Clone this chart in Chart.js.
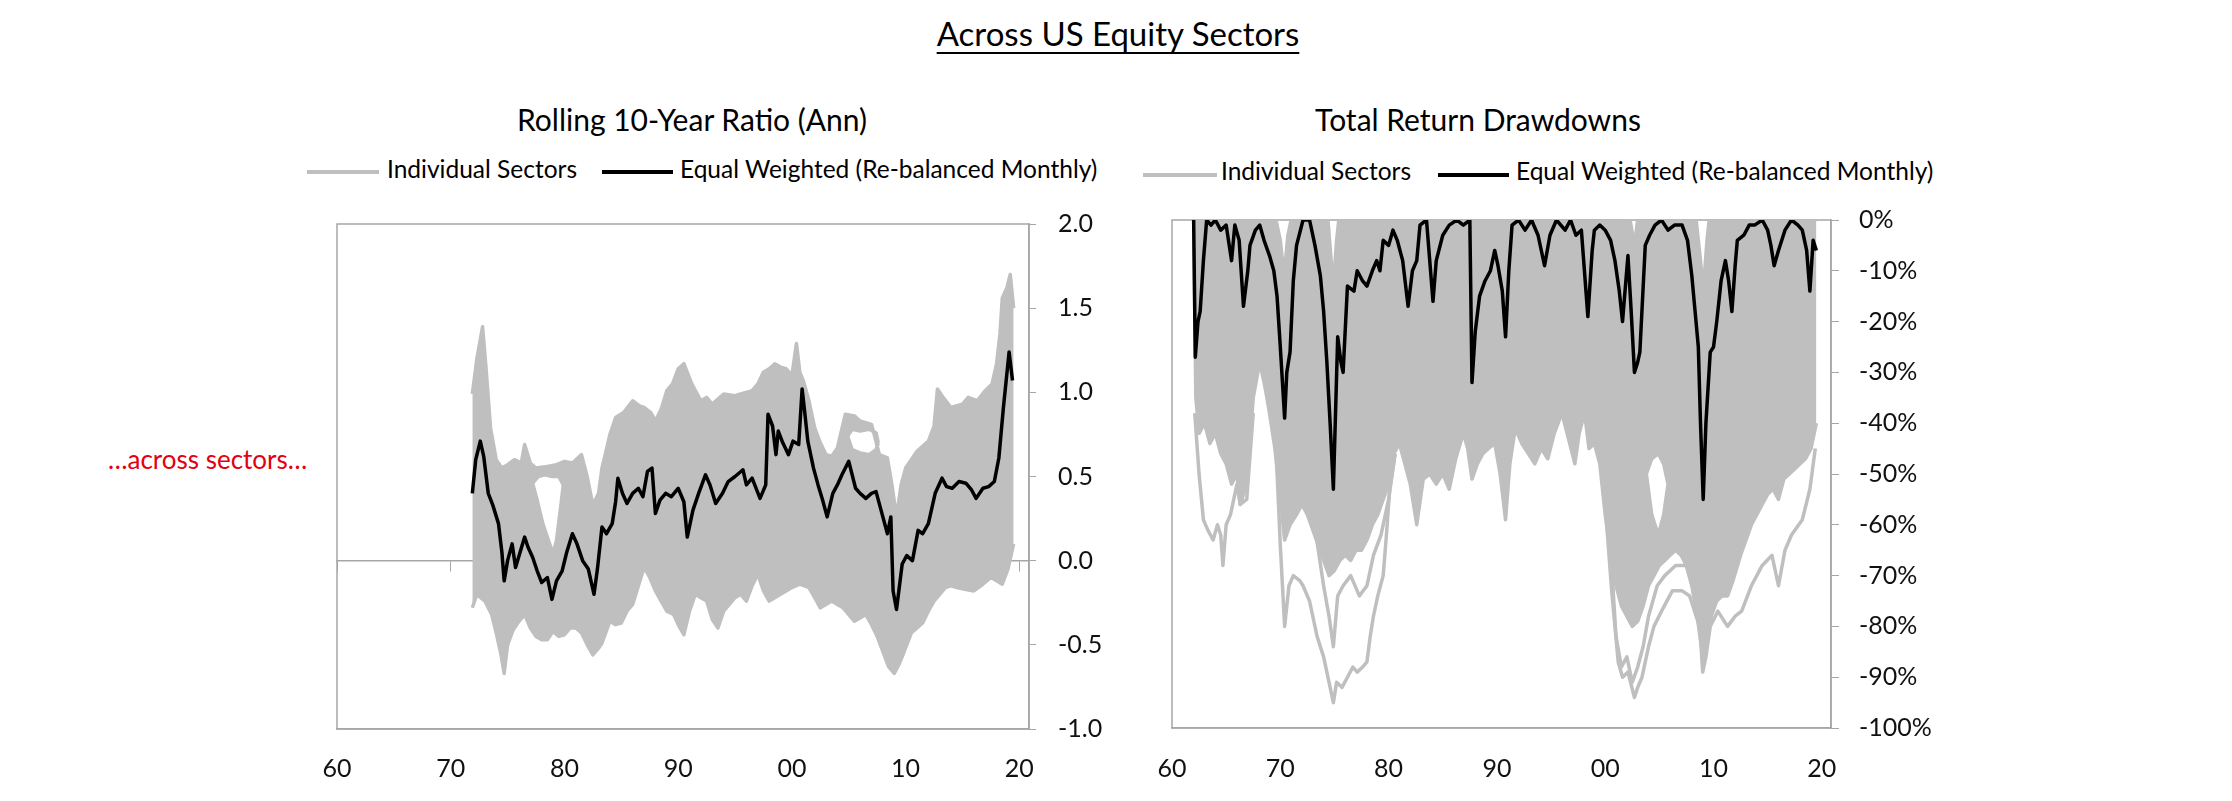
<!DOCTYPE html>
<html>
<head>
<meta charset="utf-8">
<title>Across US Equity Sectors</title>
<script src="https://cdn.jsdelivr.net/npm/chart.js@4.4.1/dist/chart.umd.min.js"></script>
<style>
  html, body { margin: 0; padding: 0; background: #fff; }
  body { width: 2232px; height: 801px; position: relative; overflow: hidden; font-family: Lato, 'Open Sans', sans-serif; color: #000; }
  .txt { position: absolute; line-height: 1; white-space: nowrap; }
  #mainTitle { left: 2px; width: 2232px; top: 17px; text-align: center; font-size: 33px; }
  #mainTitle span { text-decoration: underline; text-decoration-thickness: 2px; text-underline-offset: 6px; }
  .sub { width: 500px; text-align: center; font-size: 30px; top: 104px; }
  .leg { font-size: 24.5px; }
  .swatch { position: absolute; height: 4px; }
  #note { left: 108px; top: 446px; font-size: 26px; color: #e3000f; }
  canvas { position: absolute; }
</style>
</head>
<body>
<div class="txt" id="mainTitle"><span>Across US Equity Sectors</span></div>

<div class="txt sub" style="left: 442px;">Rolling 10-Year Ratio (Ann)</div>
<div class="txt sub" style="left: 1228px;">Total Return Drawdowns</div>

<div class="swatch" style="left: 307px; top: 170px; width: 72px; background: #bfbfbf;"></div>
<div class="txt leg" style="left: 387px; top: 157px;">Individual Sectors</div>
<div class="swatch" style="left: 602px; top: 170px; width: 71px; background: #000;"></div>
<div class="txt leg" style="left: 680px; top: 157px;">Equal Weighted (Re-balanced Monthly)</div>

<div class="swatch" style="left: 1143px; top: 173px; width: 74px; background: #bfbfbf;"></div>
<div class="txt leg" style="left: 1221px; top: 159px;">Individual Sectors</div>
<div class="swatch" style="left: 1438px; top: 173px; width: 71px; background: #000;"></div>
<div class="txt leg" style="left: 1516px; top: 159px;">Equal Weighted (Re-balanced Monthly)</div>

<div class="txt" id="note">…across sectors…</div>

<canvas id="rollChart" width="830" height="614" style="left: 290px; top: 187px; width: 830px; height: 614px;"></canvas>
<canvas id="ddChart" width="830" height="616" style="left: 1130px; top: 185px; width: 830px; height: 616px;"></canvas>

<script>
// x axis: years, labels shown as two digits
const xTickYears = [1960, 1970, 1980, 1990, 2000, 2010, 2020];
const xMinYear = 1960;
const xMaxYear = 2020.85;

// left panel: rolling 10-year ratio, [year, value]
const rollEqualWeighted = [
    [1971.9, 0.40], [1972.2, 0.60], [1972.6, 0.71], [1972.9, 0.62], [1973.3, 0.40], [1973.7, 0.33],
    [1974.2, 0.22], [1974.5, 0.05], [1974.7, -0.12], [1975.0, 0.00], [1975.4, 0.10], [1975.7, -0.04],
    [1976.1, 0.05], [1976.5, 0.14], [1976.8, 0.08], [1977.2, 0.02], [1977.6, -0.06], [1978.0, -0.13],
    [1978.5, -0.10], [1978.9, -0.23], [1979.3, -0.12], [1979.8, -0.06], [1980.2, 0.05], [1980.7, 0.16],
    [1981.1, 0.10], [1981.6, 0.00], [1982.1, -0.05], [1982.6, -0.20], [1982.9, -0.05], [1983.3, 0.20],
    [1983.7, 0.16], [1984.2, 0.22], [1984.5, 0.35], [1984.7, 0.49], [1985.1, 0.40], [1985.5, 0.34],
    [1986.0, 0.40], [1986.5, 0.43], [1986.9, 0.38], [1987.3, 0.53], [1987.7, 0.55], [1988.0, 0.28],
    [1988.4, 0.36], [1988.9, 0.40], [1989.4, 0.38], [1990.0, 0.43], [1990.5, 0.35], [1990.8, 0.14],
    [1991.3, 0.30], [1991.8, 0.40], [1992.4, 0.51], [1992.8, 0.45], [1993.3, 0.34], [1993.9, 0.40],
    [1994.4, 0.47], [1995.0, 0.50], [1995.7, 0.54], [1996.0, 0.45], [1996.5, 0.49], [1997.2, 0.37],
    [1997.7, 0.45], [1997.9, 0.87], [1998.3, 0.80], [1998.6, 0.63], [1998.8, 0.77], [1999.2, 0.70],
    [1999.7, 0.63], [2000.1, 0.71], [2000.6, 0.69], [2000.9, 1.02], [2001.1, 0.90], [2001.4, 0.71],
    [2001.9, 0.55], [2002.3, 0.45], [2002.7, 0.36], [2003.1, 0.26], [2003.6, 0.40], [2004.0, 0.45],
    [2004.4, 0.51], [2005.0, 0.59], [2005.6, 0.43], [2006.0, 0.40], [2006.5, 0.37], [2007.0, 0.40],
    [2007.4, 0.41], [2008.0, 0.26], [2008.4, 0.16], [2008.7, 0.26], [2008.9, -0.18], [2009.2, -0.29],
    [2009.7, -0.02], [2010.1, 0.03], [2010.6, 0.00], [2011.1, 0.18], [2011.5, 0.16], [2012.0, 0.22],
    [2012.6, 0.40], [2013.2, 0.49], [2013.6, 0.44], [2014.1, 0.43], [2014.7, 0.47], [2015.3, 0.46],
    [2015.8, 0.42], [2016.2, 0.37], [2016.8, 0.43], [2017.3, 0.44], [2017.8, 0.47], [2018.2, 0.61],
    [2018.6, 0.91], [2019.1, 1.24], [2019.4, 1.07]
];

// highest and lowest sector at each date (the grey band)
const rollSectorsHigh = [
    [1971.9, 0.99], [1972.3, 1.20], [1972.8, 1.39], [1973.1, 1.15], [1973.5, 0.79], [1974.0, 0.60],
    [1974.5, 0.55], [1975.0, 0.57], [1975.6, 0.60], [1976.2, 0.58], [1976.5, 0.69], [1977.0, 0.58],
    [1977.5, 0.55], [1978.5, 0.56], [1979.3, 0.57], [1980.0, 0.59], [1980.7, 0.58], [1981.5, 0.63],
    [1982.0, 0.50], [1982.5, 0.33], [1983.0, 0.40], [1983.3, 0.55], [1984.0, 0.75], [1984.5, 0.85],
    [1985.2, 0.88], [1986.0, 0.95], [1986.6, 0.92], [1987.0, 0.91], [1987.6, 0.88], [1988.0, 0.83],
    [1988.5, 0.90], [1989.0, 1.01], [1989.5, 1.05], [1990.0, 1.14], [1990.5, 1.17], [1991.2, 1.05],
    [1992.0, 0.95], [1992.5, 0.97], [1993.0, 0.93], [1993.5, 0.96], [1994.0, 0.99], [1995.0, 0.98],
    [1995.5, 0.99], [1996.5, 1.01], [1997.0, 1.05], [1997.5, 1.12], [1998.0, 1.14], [1998.5, 1.17],
    [1999.0, 1.15], [1999.5, 1.14], [2000.0, 1.10], [2000.4, 1.29], [2000.7, 1.12], [2001.0, 1.07],
    [2001.5, 0.95], [2002.0, 0.79], [2002.5, 0.70], [2003.0, 0.63], [2003.5, 0.62], [2004.0, 0.67],
    [2004.7, 0.87], [2005.5, 0.86], [2006.0, 0.83], [2007.0, 0.81], [2007.7, 0.63], [2008.4, 0.61],
    [2008.8, 0.45], [2009.2, 0.26], [2009.6, 0.45], [2010.0, 0.55], [2011.0, 0.65], [2012.0, 0.71],
    [2012.5, 0.80], [2012.8, 1.02], [2013.3, 0.97], [2014.0, 0.91], [2015.0, 0.93], [2015.5, 0.97],
    [2016.3, 0.95], [2017.0, 1.01], [2017.6, 1.05], [2018.0, 1.17], [2018.3, 1.35], [2018.5, 1.56],
    [2018.9, 1.62], [2019.2, 1.70], [2019.5, 1.50]
];
const rollSectorsLow = [
    [1971.9, -0.28], [1972.3, -0.20], [1973.0, -0.24], [1973.6, -0.32], [1974.0, -0.43], [1974.4, -0.55],
    [1974.7, -0.67], [1975.0, -0.50], [1975.5, -0.41], [1976.0, -0.36], [1976.5, -0.32], [1977.0, -0.40],
    [1977.5, -0.45], [1978.0, -0.47], [1978.5, -0.47], [1979.0, -0.42], [1979.5, -0.45], [1980.0, -0.44],
    [1980.5, -0.40], [1981.0, -0.40], [1981.5, -0.43], [1982.0, -0.50], [1982.5, -0.56], [1983.0, -0.52],
    [1983.3, -0.49], [1984.0, -0.36], [1984.5, -0.38], [1985.0, -0.37], [1985.5, -0.30], [1986.0, -0.26],
    [1986.5, -0.15], [1987.0, -0.04], [1987.5, -0.10], [1988.0, -0.18], [1988.5, -0.24], [1989.0, -0.30],
    [1989.6, -0.32], [1990.0, -0.38], [1990.5, -0.44], [1991.0, -0.30], [1991.5, -0.20], [1992.0, -0.22],
    [1992.5, -0.24], [1993.0, -0.35], [1993.5, -0.40], [1994.0, -0.30], [1994.5, -0.26], [1995.0, -0.22],
    [1995.5, -0.20], [1996.0, -0.24], [1996.5, -0.15], [1997.0, -0.08], [1997.5, -0.18], [1998.0, -0.24],
    [1998.5, -0.22], [1999.0, -0.20], [1999.5, -0.18], [2000.0, -0.16], [2000.7, -0.14], [2001.5, -0.16],
    [2002.0, -0.22], [2002.5, -0.28], [2003.0, -0.26], [2003.5, -0.24], [2004.0, -0.26], [2004.5, -0.28],
    [2005.0, -0.32], [2005.5, -0.36], [2006.0, -0.34], [2006.5, -0.32], [2007.0, -0.38], [2007.5, -0.45],
    [2008.0, -0.54], [2008.5, -0.63], [2009.0, -0.67], [2009.4, -0.62], [2009.7, -0.57], [2010.1, -0.50],
    [2010.5, -0.43], [2011.0, -0.40], [2011.5, -0.37], [2012.0, -0.30], [2012.5, -0.24], [2013.0, -0.20],
    [2013.5, -0.16], [2014.0, -0.15], [2014.5, -0.16], [2015.2, -0.17], [2016.0, -0.18], [2016.8, -0.14],
    [2017.5, -0.10], [2018.0, -0.12], [2018.5, -0.14], [2019.0, -0.05], [2019.3, 0.04], [2019.5, 0.10]
];
// gaps inside the band where no sector passes
const rollGapA_top = [[1977.2, 0.46], [1977.7, 0.50], [1978.3, 0.51], [1978.9, 0.50], [1979.5, 0.50], [1979.9, 0.45]];
const rollGapA_bottom = [[1977.2, 0.46], [1977.6, 0.36], [1978.1, 0.22], [1978.6, 0.12], [1979.0, 0.04], [1979.3, 0.12], [1979.6, 0.28], [1979.9, 0.45]];
const rollGapB_top = [[2004.9, 0.74], [2005.3, 0.78], [2006.0, 0.77], [2006.8, 0.78], [2007.4, 0.76], [2007.6, 0.70]];
const rollGapB_bottom = [[2004.9, 0.74], [2005.3, 0.66], [2006.0, 0.64], [2006.8, 0.63], [2007.4, 0.66], [2007.6, 0.70]];

// right panel: total return drawdowns in %, [year, value]
const ddEqualWeighted = [
    [1962.0, 0], [1962.15, -27], [1962.4, -20], [1962.6, -18], [1962.9, -8], [1963.2, 0], [1963.6, -1],
    [1964.0, 0], [1964.5, -2], [1965.0, -1], [1965.5, -8], [1965.8, -1], [1966.2, -4], [1966.6, -17],
    [1967.0, -10], [1967.2, -5], [1967.7, -2], [1968.1, -1], [1968.5, -4], [1969.0, -7], [1969.4, -10],
    [1969.7, -15], [1970.0, -25], [1970.4, -39], [1970.6, -30], [1970.9, -26], [1971.2, -12], [1971.5, -5],
    [1972.1, 0], [1972.7, 0], [1973.2, -5], [1973.7, -11], [1974.0, -18], [1974.3, -28], [1974.6, -40],
    [1974.9, -53], [1975.1, -38], [1975.3, -23], [1975.6, -28], [1975.8, -30], [1976.2, -13], [1976.8, -14],
    [1977.1, -10], [1977.6, -12], [1978.0, -13], [1978.5, -10], [1978.9, -8], [1979.2, -10], [1979.5, -4],
    [1980.0, -5], [1980.4, -2], [1980.8, -4], [1981.3, -8], [1981.8, -17], [1982.2, -10], [1982.6, -8],
    [1982.9, -1], [1983.5, 0], [1984.1, -16], [1984.4, -8], [1985.0, -3], [1985.6, -1], [1986.3, 0],
    [1986.9, -1], [1987.5, 0], [1987.7, -32], [1988.0, -22], [1988.4, -15], [1988.9, -12], [1989.4, -10],
    [1989.8, -6], [1990.1, -9], [1990.5, -14], [1990.8, -23], [1991.1, -10], [1991.4, -1], [1992.0, 0],
    [1992.6, -2], [1993.2, 0], [1993.8, -3], [1994.4, -9], [1994.9, -3], [1995.5, 0], [1996.3, -2],
    [1996.8, 0], [1997.3, -3], [1997.8, -2], [1998.4, -19], [1998.8, -6], [1999.0, -2], [1999.5, -1],
    [2000.0, -2], [2000.5, -4], [2000.9, -8], [2001.3, -14], [2001.6, -20], [2002.1, -7], [2002.4, -18],
    [2002.7, -30], [2003.0, -28], [2003.2, -26], [2003.7, -5], [2004.1, -3], [2004.6, -1], [2005.2, 0],
    [2005.8, -2], [2006.4, -1], [2007.1, -1], [2007.6, -4], [2008.0, -11], [2008.3, -18], [2008.6, -25],
    [2008.8, -40], [2009.05, -55], [2009.3, -40], [2009.7, -26], [2010.0, -25], [2010.3, -20], [2010.7, -12],
    [2011.1, -8], [2011.4, -12], [2011.7, -18], [2012.0, -9], [2012.2, -4], [2012.8, -3], [2013.3, -1],
    [2013.8, -1], [2014.5, 0], [2015.0, -2], [2015.3, -5], [2015.6, -9], [2016.0, -6], [2016.6, -2],
    [2017.2, 0], [2017.8, -1], [2018.2, -2], [2018.6, -6], [2018.9, -14], [2019.2, -4], [2019.5, -6]
];
// upper and lower edge of the solid grey mass of sectors
const ddSectorsTop = [
    [1962.0, 0], [1969.6, 0], [1970.0, -4], [1970.35, -11], [1970.7, -3], [1971.0, 0], [1974.4, 0],
    [1974.7, -8], [1974.9, -13], [1975.2, -4], [1975.4, 0], [2002.3, 0], [2002.7, -5], [2003.0, 0],
    [2008.4, 0], [2008.8, -8], [2009.05, -14], [2009.4, -4], [2009.6, 0], [2019.5, 0]
];
const ddSectorsCore = [
    [1962.0, 0], [1962.2, -35], [1962.5, -42], [1963.0, -40], [1963.5, -44], [1964.0, -42], [1964.5, -46],
    [1965.0, -48], [1965.5, -52], [1966.0, -50], [1966.3, -56], [1966.9, -52], [1967.5, -35], [1968.1, -28],
    [1968.6, -33], [1969.0, -38], [1969.5, -45], [1970.0, -55], [1970.4, -63], [1970.9, -60], [1971.5, -58],
    [1972.0, -56], [1972.5, -58], [1973.0, -61], [1973.5, -64], [1974.0, -67], [1974.5, -70], [1975.0, -69],
    [1975.5, -67], [1976.0, -66], [1976.5, -67], [1977.0, -65], [1977.5, -65], [1978.0, -63], [1978.5, -60],
    [1979.0, -58], [1979.5, -55], [1980.0, -52], [1980.5, -46], [1981.0, -44], [1981.5, -48], [1982.0, -52],
    [1982.6, -60], [1983.2, -51], [1983.8, -50], [1984.4, -52], [1985.0, -50], [1985.6, -53], [1986.2, -47],
    [1986.9, -42], [1987.3, -45], [1987.7, -51], [1988.2, -48], [1988.7, -46], [1989.2, -45], [1989.8, -44],
    [1990.3, -50], [1990.8, -59], [1991.2, -48], [1991.7, -41], [1992.3, -44], [1992.9, -46], [1993.5, -48],
    [1994.1, -45], [1994.7, -47], [1995.3, -42], [1996.0, -38], [1996.6, -43], [1997.2, -48], [1997.6, -42],
    [1998.1, -38], [1998.5, -45], [1999.0, -44], [1999.5, -48], [2000.0, -58], [2000.5, -66], [2001.0, -72],
    [2001.5, -76], [2002.0, -78], [2002.5, -80], [2003.0, -79], [2003.5, -76], [2004.0, -72], [2004.5, -70],
    [2005.0, -68], [2005.5, -67], [2006.0, -66], [2006.5, -65], [2007.0, -66], [2007.5, -68], [2008.0, -72],
    [2008.5, -78], [2009.0, -86], [2009.4, -82], [2009.8, -78], [2010.3, -75], [2010.8, -74], [2011.3, -74],
    [2011.8, -71], [2012.5, -66], [2013.0, -63], [2013.5, -60], [2014.0, -58], [2014.5, -56], [2015.0, -54],
    [2015.5, -53], [2016.0, -55], [2016.5, -51], [2017.0, -50], [2017.5, -49], [2018.0, -48], [2018.5, -47],
    [2019.0, -45], [2019.5, -40]
];
// white gap inside the mass in the mid 2000s
const ddGapC_top = [[2003.8, -50], [2004.3, -47], [2004.9, -46], [2005.4, -48], [2005.8, -52]];
const ddGapC_bottom = [[2003.8, -50], [2004.3, -58], [2004.9, -62], [2005.4, -58], [2005.8, -52]];
// the deepest individual sectors, below the solid mass
const ddSectorDeep70a = [
    [1969.5, -40], [1970.0, -64], [1970.4, -80], [1970.8, -72], [1971.2, -70], [1971.8, -71], [1972.1, -72],
    [1972.7, -75], [1973.4, -82], [1974.0, -86], [1974.3, -89], [1974.6, -92], [1974.9, -95], [1975.2, -91],
    [1975.7, -92], [1976.2, -90], [1976.7, -88], [1977.1, -89], [1977.6, -88], [1978.0, -87], [1978.3, -82],
    [1978.6, -78], [1979.0, -74], [1979.5, -70], [1979.8, -62], [1980.1, -53], [1980.6, -46]
];
const ddSectorDeep60s = [
    [1962.1, -38], [1962.5, -50], [1962.9, -59], [1963.3, -61], [1963.8, -63], [1964.2, -60], [1964.5, -62],
    [1964.7, -68], [1965.0, -60], [1965.4, -58], [1966.0, -52], [1966.3, -56], [1966.9, -55], [1967.5, -38]
];
const ddSectorDeep70b = [
    [1972.5, -55], [1973.3, -62], [1974.0, -72], [1974.5, -78], [1974.9, -84], [1975.3, -74], [1975.8, -72],
    [1976.5, -70], [1977.3, -74], [1978.0, -72], [1978.6, -66], [1979.3, -62], [1980.0, -55], [1980.6, -46]
];
const ddSectorDeep00a = [
    [1999.5, -45], [2000.0, -56], [2000.6, -73], [2001.2, -87], [2001.6, -90], [2002.1, -89], [2002.7, -94],
    [2003.0, -92], [2003.4, -90], [2004.0, -84], [2004.5, -80], [2005.2, -77], [2006.2, -73], [2007.1, -73],
    [2007.8, -74], [2008.4, -78], [2009.0, -82], [2009.5, -76], [2010.5, -70], [2011.5, -68], [2012.5, -62]
];
const ddSectorDeep08 = [
    [2007.0, -45], [2007.8, -55], [2008.3, -65], [2008.6, -75], [2009.0, -89], [2009.3, -86], [2009.7, -80],
    [2010.4, -77], [2011.0, -79], [2011.3, -80], [2012.0, -78], [2012.6, -77], [2013.5, -72], [2014.5, -68],
    [2015.4, -66], [2016.0, -72], [2016.6, -65], [2017.2, -62], [2018.2, -59], [2018.9, -53], [2019.4, -45]
];
const ddSectorDeep00b = [
    [2000.0, -50], [2000.5, -65], [2001.0, -82], [2001.5, -88], [2002.0, -86], [2002.5, -91], [2003.0, -88],
    [2003.5, -84], [2004.0, -78], [2004.8, -72], [2005.5, -70], [2006.5, -68], [2007.5, -68], [2008.3, -74],
    [2008.8, -80], [2009.2, -78], [2009.8, -70], [2010.5, -66], [2011.5, -64], [2012.5, -58]
];

const sectorGrey = '#bfbfbf';
const axisGrey = '#a6a6a6';
const tickColor = '#111111';

Chart.defaults.font.family = "Lato, 'Open Sans', sans-serif";

function toPoints(pairs) {
    return pairs.map(function (p) {
        return { x: p[0], y: p[1] };
    });
}

function lineDs(pairs, color, extra) {
    return Object.assign({
        data: toPoints(pairs),
        borderColor: color,
        backgroundColor: color,
        borderWidth: 3.5,
        pointRadius: 0,
        tension: 0,
        fill: false,
        borderJoinStyle: 'round'
    }, extra || {});
}

// plot area frame, drawn under everything
const boxBorder = {
    id: 'boxBorder',
    beforeDraw: function (chart) {
        const a = chart.chartArea;
        const ctx = chart.ctx;
        ctx.save();
        ctx.strokeStyle = axisGrey;
        ctx.lineWidth = 1.5;
        ctx.strokeRect(a.left, a.top, a.right - a.left, a.bottom - a.top);
        ctx.restore();
    }
};

function setYearTicks(axis) {
    axis.ticks = xTickYears.map(function (v) {
        return { value: v };
    });
}

function yearAxis(labelPadding) {
    return {
        type: 'linear',
        min: xMinYear,
        max: xMaxYear,
        afterBuildTicks: setYearTicks,
        afterFit: function (axis) { axis.height = 60; },
        grid: { display: false },
        border: { display: true, color: axisGrey, width: 1.5 },
        ticks: {
            padding: labelPadding,
            color: tickColor,
            font: { size: 25 },
            callback: function (v) {
                return String(v % 100).padStart(2, '0');
            }
        }
    };
}

const commonPlugins = {
    legend: { display: false },
    tooltip: { enabled: false },
    filler: { propagate: false, drawTime: 'beforeDatasetsDraw' }
};

// left: rolling ratio
new Chart(document.getElementById('rollChart'), {
    type: 'line',
    data: {
        datasets: [
            lineDs(rollEqualWeighted, '#000000'),
            lineDs(rollGapA_bottom, sectorGrey, { fill: '+1', backgroundColor: '#ffffff' }),
            lineDs(rollGapA_top, sectorGrey),
            lineDs(rollGapB_bottom, sectorGrey, { fill: '+1', backgroundColor: '#ffffff' }),
            lineDs(rollGapB_top, sectorGrey),
            lineDs(rollSectorsLow, sectorGrey, { fill: '+1' }),
            lineDs(rollSectorsHigh, sectorGrey)
        ]
    },
    options: {
        responsive: false,
        animation: false,
        events: [],
        layout: { padding: { left: 47, right: 16, top: 22, bottom: 12 } },
        plugins: commonPlugins,
        scales: {
            x: yearAxis(17),
            zeroLine: {
                type: 'linear',
                axis: 'x',
                position: { y: 0 },
                min: xMinYear,
                max: xMaxYear,
                afterBuildTicks: setYearTicks,
                grid: { display: true, drawOnChartArea: false, drawTicks: true, tickLength: 10, color: axisGrey },
                border: { display: true, color: axisGrey, width: 1.5 },
                ticks: { display: false }
            },
            y: {
                position: 'right',
                min: -1,
                max: 2,
                afterFit: function (axis) { axis.width = 75; },
                grid: { drawOnChartArea: false, drawTicks: true, tickLength: 7, color: axisGrey },
                border: { display: true, color: axisGrey, width: 1.5 },
                ticks: {
                    stepSize: 0.5,
                    padding: 22,
                    color: tickColor,
                    font: { size: 25 },
                    callback: function (v) { return v.toFixed(1); }
                }
            }
        }
    },
    plugins: [boxBorder]
});

// right: drawdowns
new Chart(document.getElementById('ddChart'), {
    type: 'line',
    data: {
        datasets: [
            lineDs(ddEqualWeighted, '#000000'),
            lineDs(ddGapC_bottom, sectorGrey, { fill: '+1', backgroundColor: '#ffffff' }),
            lineDs(ddGapC_top, sectorGrey),
            lineDs(ddSectorDeep70a, sectorGrey),
            lineDs(ddSectorDeep60s, sectorGrey),
            lineDs(ddSectorDeep70b, sectorGrey),
            lineDs(ddSectorDeep00a, sectorGrey),
            lineDs(ddSectorDeep08, sectorGrey),
            lineDs(ddSectorDeep00b, sectorGrey),
            lineDs(ddSectorsCore, sectorGrey, { fill: '+1' }),
            lineDs(ddSectorsTop, sectorGrey)
        ]
    },
    options: {
        responsive: false,
        animation: false,
        events: [],
        layout: { padding: { left: 42, right: 19, top: 22, bottom: 13 } },
        plugins: commonPlugins,
        scales: {
            x: yearAxis(18),
            y: {
                position: 'right',
                min: -100,
                max: 0,
                afterFit: function (axis) { axis.width = 110; },
                grid: { drawOnChartArea: false, drawTicks: true, tickLength: 8, color: axisGrey },
                border: { display: true, color: axisGrey, width: 1.5 },
                ticks: {
                    stepSize: 10,
                    padding: 20,
                    color: tickColor,
                    font: { size: 25 },
                    callback: function (v) { return v + '%'; }
                }
            }
        }
    },
    plugins: [boxBorder]
});
</script>
</body>
</html>
